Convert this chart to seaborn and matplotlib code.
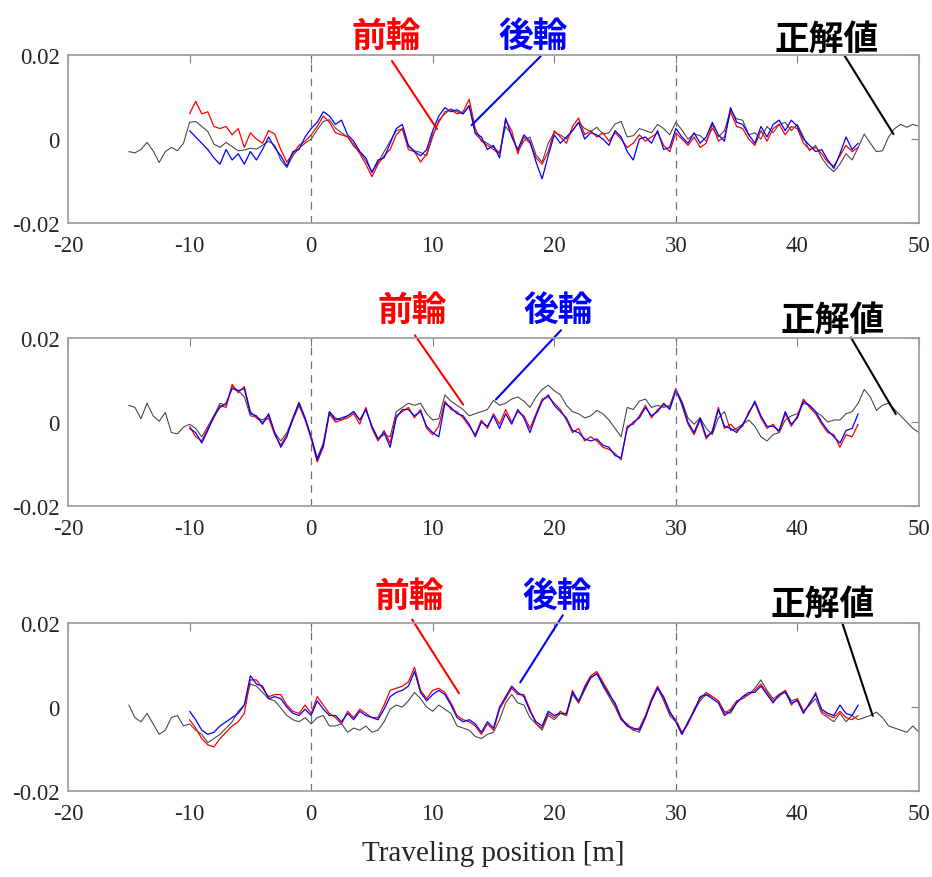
import numpy as np
import matplotlib
matplotlib.use("Agg")
import matplotlib.pyplot as plt
import seaborn as sns

# positions [m]
x_truth = np.arange(-15, 50.01, 0.5)
x_wheel = np.arange(-10, 45.01, 0.5)

# values in units of 1e-3
truth_1 = [
    -3.0, -3.3, -2.5, -0.8, -2.8, -5.6, -3.0, -2.0, -2.8, -1.0,
    4.0, 4.2, 3.0, 1.8, -1.2, -2.0, -0.8, -1.8, -2.8, -2.6,
    -2.2, -2.4, -1.5, -0.5, -1.5, -5.0, -6.8, -4.0, -2.2, -1.0,
    0.0, 2.2, 4.2, 4.6, 2.6, 1.5, 0.5, -1.8, -3.0, -5.2,
    -7.8, -5.6, -3.0, -0.5, 2.0, 2.4, -1.8, -2.8, -3.2, -4.0,
    0.5, 4.5, 6.0, 7.2, 6.5, 6.0, 7.8, 1.2, -0.2, -1.0,
    -2.0, -3.2, 3.0, 1.0, -3.0, -0.5, 0.5, -3.8, -5.5, -1.0,
    1.5, 1.0, 0.0, 2.0, 4.0, 2.5, 1.8, 2.8, 1.2, 1.5,
    3.6, 4.2, 0.5, 0.8, 2.5, 2.0, 1.5, 3.5, 2.5, 1.0,
    4.0, 2.2, 0.0, 1.2, 0.8, -0.5, 2.5, 0.5, 2.0, 7.0,
    4.8, 4.5, 1.0, 1.5, 0.0, 3.0, 1.5, 3.5, 4.0, 2.0,
    3.5, 0.5, -2.8, -1.5, -4.5, -6.5, -7.8, -6.0, -3.5, -5.0,
    -2.0, 1.2, -1.0, -3.0, -2.8, 0.5, 2.5, 3.5, 2.8, 3.5,
    3.0,
]
front_1 = [
    6.0, 9.0, 6.0, 6.5, 3.0, 2.5, 3.0, 1.0, 2.5, -2.0,
    1.5, 0.0, -1.0, 2.0, 1.2, -2.5, -5.5, -3.5, -1.5, -0.5,
    1.0, 3.0, 5.5, 4.0, 1.5, 1.0, 0.5, -1.2, -3.5, -6.0,
    -9.0, -6.0, -4.0, -2.5, 1.0, 2.5, -2.5, -3.0, -5.5, -3.5,
    1.0, 4.0, 6.5, 7.0, 6.0, 6.5, 9.5, 2.5, -0.5, -1.5,
    -2.5, -3.5, 4.5, 2.0, -3.5, 0.5, -1.0, -4.5, -6.0, -3.0,
    2.0, 0.5, -1.0, 3.0, 5.0, 1.0, 2.0, 0.5, 1.5, -0.5,
    1.5, 0.0, -2.0, -1.0, 1.0, -0.5, 0.5, 1.5, -1.5, -3.0,
    1.5, 0.0, -1.5, 0.5, -2.0, -1.0, 3.5, -0.5, 0.5, 6.5,
    3.0, 2.5, 0.0, -1.5, 2.0, -0.5, 2.5, 3.5, 1.0, 3.0,
    2.5, -1.0, -2.5, -2.0, -3.5, -5.5, -6.5, -4.0, -1.5, -3.0,
    -2.0,
]
rear_1 = [
    2.0, 0.5, -1.0, -2.5, -4.5, -6.0, -2.5, -5.0, -3.5, -6.0,
    -3.0, -5.0, -2.5, 0.5, -2.0, -4.0, -6.5, -3.0, -2.5, 0.5,
    2.5, 4.0, 6.5, 5.5, 3.5, 4.5, 1.0, -0.5, -3.0, -4.5,
    -8.0, -5.0, -4.5, -1.0, 2.5, 3.5, -1.5, -3.0, -4.0, -2.5,
    2.0, 5.5, 7.5, 6.5, 7.0, 6.0, 8.0, 1.5, 0.5, -2.5,
    -1.5, -4.5, 5.0, 0.5, -2.5, 1.0, -0.5, -5.5, -9.5, -4.0,
    1.0, -1.0, 0.5, 2.0, 4.0, 0.0, 1.5, 1.0, 0.0, -1.5,
    2.0, 0.5, -3.0, -5.0, 0.0, 0.5, -1.0, 2.0, -2.5, -2.0,
    2.5, 0.5, -1.0, 1.5, -1.0, 0.5, 4.0, 1.0, -0.5, 7.5,
    4.0, 3.5, 1.0, -1.0, 3.0, 0.5, 3.5, 4.5, 2.0, 4.5,
    3.0, 0.0, -1.5, -3.0, -2.5, -5.0, -7.0, -3.5, 0.5, -2.5,
    -1.0,
]

truth_2 = [
    4.0, 3.5, 0.8, 4.5, 1.5, 0.2, 2.3, -2.5, -2.8, -1.2,
    -0.5, -1.5, -3.5, -1.0, 1.5, 4.5, 4.0, 8.5, 7.5, 6.0,
    1.5, 1.2, 0.5, 1.5, -2.5, -4.5, -2.5, 1.0, 4.8, 1.0,
    -3.5, -8.5, -5.0, 2.5, 1.0, 0.5, 1.5, 2.5, 0.5, 3.0,
    -1.0, -4.0, -3.0, -3.5, 2.5, 3.5, 4.5, 4.0, 4.5, 2.0,
    0.5, 0.8, 6.5, 5.0, 4.0, 3.0, 1.5, 2.0, 2.5, 3.0,
    5.2, 4.0, 4.5, 5.5, 6.0, 5.0, 3.5, 6.0, 7.8, 8.8,
    7.5, 6.5, 4.0, 2.5, 2.0, 1.0, 1.5, 2.8, 2.0, 0.5,
    -1.5, -3.5, 3.5, 3.0, 5.0, 5.5, 3.5, 4.0, 3.5, 4.0,
    7.8, 5.0, 1.0, -0.5, 1.0, -1.5, -3.0, 1.0, 2.5, -2.0,
    -1.5, -0.5, 0.5, -1.0, -3.5, -4.5, -3.0, -2.5, 0.5, 1.5,
    2.0, 4.5, 4.0, 2.5, 1.5, 0.0, 0.5, 0.5, 2.0, 2.5,
    4.5, 7.8, 6.0, 2.8, 4.0, 4.5, 3.0, 1.5, 0.0, -1.5,
    -2.5,
]
front_2 = [
    -1.0, -3.5, -4.5, -1.5, 1.0, 4.0, 3.5, 9.0, 7.0, 8.5,
    2.5, 1.0, 0.0, 1.0, -3.0, -5.5, -3.0, 0.5, 4.0, 0.5,
    -4.0, -9.5, -6.0, 2.0, 0.0, 0.5, 1.0, 2.0, -0.5, 3.5,
    -1.5, -4.5, -2.0, -5.0, 1.5, 2.5, 3.5, 1.0, 3.0, -1.5,
    -3.0, -1.0, 5.0, 3.0, 2.5, 1.0, -1.0, -3.0, 0.5, -1.5,
    2.0, -0.5, 3.0, 0.0, 2.5, 1.5, -1.5, 2.0, 5.5, 6.0,
    4.5, 3.0, 0.5, -2.5, -1.5, -4.5, -3.5, -4.5, -6.0, -6.5,
    -7.5, -9.0, -1.0, -0.5, 1.5, 4.0, 1.0, 3.0, 4.0, 3.5,
    8.0, 4.0, -0.5, -3.0, 0.5, -4.0, -2.0, 3.5, -1.5, -0.5,
    -2.0, -1.0, 2.5, 4.5, 1.0, -1.5, -0.5, -2.5, 2.0, -1.0,
    1.5, 5.5, 3.5, 2.0, -0.5, -2.5, -3.0, -6.0, -3.0, -3.5,
    -0.5,
]
rear_2 = [
    -1.5, -2.5, -5.0, -2.0, 1.5, 3.5, 4.5, 8.0, 7.5, 8.0,
    2.0, 1.5, -0.5, 2.0, -2.5, -6.0, -3.5, 1.0, 4.5, 1.0,
    -3.5, -9.0, -5.5, 2.5, 0.5, 1.0, 1.5, 2.5, 0.5, 3.0,
    -1.0, -4.0, -2.5, -6.0, 1.0, 3.0, 3.0, 1.5, 2.5, -1.0,
    -2.5, -3.5, 4.5, 3.5, 2.0, 1.5, -0.5, -3.5, 0.0, -1.0,
    1.5, -1.5, 2.0, -0.5, 3.0, 1.0, -2.5, 1.5, 5.0, 6.5,
    4.0, 2.5, 1.0, -2.0, -2.5, -4.0, -4.5, -4.0, -5.5, -6.0,
    -8.0, -8.5, -1.5, 0.0, 1.0, 3.5, 1.5, 2.5, 4.5, 3.0,
    7.5, 4.5, 0.0, -2.5, 1.0, -3.5, -2.5, 3.0, -1.0, -1.5,
    -2.5, -0.5, 2.0, 5.0, 1.5, -1.0, -1.0, -2.0, 2.5, -0.5,
    1.0, 5.0, 4.0, 2.5, 0.0, -2.0, -3.5, -5.0, -2.0, -1.5,
    2.0,
]

truth_3 = [
    0.5, -2.5, -3.5, -1.5, -4.0, -6.5, -5.5, -2.5, -2.0, -4.5,
    -4.0, -5.5, -6.5, -8.5, -7.5, -6.5, -5.0, -3.5, -1.0, 0.5,
    5.5, 5.0, 3.5, 2.0, 1.5, -0.2, -2.0, -3.0, -3.5, -2.5,
    -4.0, -2.5, -2.0, -4.5, -4.5, -4.0, -6.0, -5.0, -5.5, -4.5,
    -6.0, -5.5, -3.5, -0.5, 0.5, 0.0, 1.5, 3.5, 2.0, 0.0,
    -1.0, 0.5, -0.5, -1.5, -4.5, -5.0, -5.5, -7.0, -7.5, -6.5,
    -6.0, -3.0, 1.0, 3.0, 1.0, 0.5, -2.5, -4.0, -5.5, -2.0,
    -3.0, -1.5, -2.0, 3.0, 1.0, 4.0, 7.0, 8.0, 5.0, 2.5,
    0.0, -3.0, -4.5, -5.5, -6.0, -2.5, 1.5, 4.5, 1.5, -2.0,
    -3.5, -6.5, -4.0, -1.0, 1.5, 3.0, 2.5, 1.5, -1.0, -1.5,
    1.0, 2.5, 3.0, 4.5, 6.5, 4.0, 2.0, 3.0, 4.0, 1.5,
    2.0, -1.0, 0.5, 2.0, -1.5, -2.5, -3.5, -1.5, -3.5, -2.0,
    -3.0, -2.5, -2.0, -1.2, -2.5, -4.5, -5.0, -5.5, -6.0, -4.5,
    -6.0,
]
front_3 = [
    -3.0, -5.0, -7.5, -9.0, -9.5, -7.5, -6.0, -4.5, -3.5, -1.5,
    6.5, 6.5, 4.5, 2.5, 3.0, 3.0, 0.5, -1.0, -1.5, 0.5,
    -1.5, 2.5, 0.5, -1.5, -2.5, -4.0, -1.0, -2.5, -0.5, -1.5,
    -2.5, -2.5, 0.5, 4.0, 4.5, 5.0, 6.0, 9.5, 4.0, 2.0,
    4.0, 4.5, 3.5, 1.0, -2.0, -3.0, -3.5, -4.5, -6.5, -4.0,
    -5.5, -0.5, 2.0, 4.5, 3.0, 3.0, -0.5, -4.0, -5.0, -1.5,
    -2.5, -1.0, -2.0, 4.0, 1.0, 5.0, 7.5, 8.5, 6.0, 3.5,
    0.5, -3.0, -4.0, -5.5, -5.0, -2.0, 2.0, 5.0, 2.0, -1.5,
    -3.0, -6.0, -4.0, -0.5, 2.0, 3.5, 2.5, 1.5, -1.5, -0.5,
    1.5, 2.0, 3.0, 4.0, 5.5, 3.5, 1.5, 2.5, 4.0, 0.5,
    2.0, -1.0, 0.5, 3.5, -1.0, -2.0, -2.5, -1.0, -2.5, -3.0,
    -2.0,
]
rear_3 = [
    -1.0, -3.0, -5.5, -6.5, -6.0, -4.5, -3.5, -2.5, -1.5, 0.5,
    7.5, 5.5, 5.0, 2.0, 2.5, 2.0, 0.0, -1.5, -2.0, -0.5,
    -2.0, 1.5, -0.5, -2.0, -2.0, -3.5, -1.5, -3.0, -1.0, -2.0,
    -2.5, -3.0, -0.5, 2.5, 3.5, 4.0, 5.0, 8.5, 3.5, 1.5,
    3.0, 4.0, 3.0, 0.5, -2.5, -3.5, -3.0, -4.0, -6.0, -3.5,
    -5.0, 0.0, 2.5, 5.0, 3.5, 2.5, -1.0, -3.5, -4.5, -1.0,
    -2.0, -1.5, -1.5, 3.5, 1.5, 4.5, 7.0, 8.0, 5.5, 3.0,
    1.0, -2.5, -4.5, -5.0, -5.5, -2.5, 1.5, 4.5, 2.5, -1.0,
    -3.5, -6.5, -3.5, -1.0, 2.5, 3.0, 2.0, 1.0, -2.0, -1.0,
    1.0, 2.5, 3.5, 3.5, 5.0, 3.0, 1.0, 3.0, 3.5, 1.0,
    1.5, -1.5, 1.0, 3.0, -0.5, -1.5, -2.0, 0.5, -1.5, -2.0,
    0.5,
]

panels = [
    (truth_1, front_1, rear_1),
    (truth_2, front_2, rear_2),
    (truth_3, front_3, rear_3),
]

# label positions (x [m], y) and leader lines (start, end) for each panel
label_pos = [
    {"front": (6.2, 0.0248), "rear": (18.3, 0.0248), "truth": (42.4, 0.0240)},
    {"front": (8.3, 0.0268), "rear": (20.3, 0.0268), "truth": (42.9, 0.0244)},
    {"front": (8.1, 0.0266), "rear": (20.2, 0.0266), "truth": (42.1, 0.0247)},
]
leaders = [
    {"front": ((6.65, 0.0186), (10.35, 0.0024)),
     "rear": ((18.9, 0.0198), (13.2, 0.0033)),
     "truth": ((43.9, 0.0198), (47.9, 0.0012))},
    {"front": ((8.54, 0.0207), (12.5, 0.0042)),
     "rear": ((20.55, 0.0219), (15.2, 0.0054)),
     "truth": ((44.4, 0.0202), (48.1, 0.0019))},
    {"front": ((8.3, 0.0209), (12.16, 0.0033)),
     "rear": ((20.7, 0.0219), (17.2, 0.0059)),
     "truth": ((43.7, 0.0200), (46.2, -0.0021))},
]
labels = {"front": "前輪", "rear": "後輪", "truth": "正解値"}
colors = {"front": "#ff0000", "rear": "#0000ff", "truth": "#000000"}

sns.set_style("white")
plt.rcParams["font.family"] = ["Liberation Serif", "DejaVu Serif"]
plt.rcParams["axes.unicode_minus"] = False

fig = plt.figure(figsize=(9.32, 8.78), dpi=100)
bottoms = [0.745, 0.4226, 0.098]
frame_col = "#a0a0a0"

for i, (truth, front, rear) in enumerate(panels):
    ax = fig.add_axes([0.073, bottoms[i], 0.913, 0.191])
    sns.lineplot(x=x_truth, y=np.array(truth) * 1e-3, ax=ax, color="#404040",
                 linewidth=0.75, estimator=None)
    sns.lineplot(x=x_wheel, y=np.array(front) * 1e-3, ax=ax, color="#ff0000",
                 linewidth=0.9, estimator=None)
    sns.lineplot(x=x_wheel, y=np.array(rear) * 1e-3, ax=ax, color="#0000ff",
                 linewidth=0.9, estimator=None)

    for xv in (0, 30):
        ax.axvline(xv, color="#707070", linestyle=(0, (6, 5)), linewidth=0.9)

    ax.set_xlim(-20, 50)
    ax.set_ylim(-0.02, 0.02)
    ax.set_xticks(range(-20, 51, 10))
    ax.set_xticklabels([str(v) for v in range(-20, 51, 10)])
    ax.set_yticks([-0.02, 0, 0.02])
    ax.set_yticklabels(["-0.02", "0", "0.02"])
    ax.tick_params(direction="in", top=True, right=True, length=6,
                   color="#808080", labelsize=16.5)
    ax.tick_params(axis="x", pad=9)
    ax.tick_params(axis="y", pad=6)
    for sp in ax.spines.values():
        sp.set_color(frame_col)
        sp.set_linewidth(1.3)
    ax.set_xlabel("")
    ax.set_ylabel("")

    for key in ("front", "rear", "truth"):
        (x0, y0), (x1, y1) = leaders[i][key]
        ax.plot([x0, x1], [y0, y1], color=colors[key], linewidth=1.5,
                clip_on=False)
        tx, ty = label_pos[i][key]
        ax.text(tx, ty, labels[key], color=colors[key], fontsize=25,
                fontweight="bold", ha="center", va="center",
                family=["Noto Sans CJK JP", "DejaVu Sans"], clip_on=False)

    if i == 2:
        ax.set_xlabel("Traveling position [m]", fontsize=21, labelpad=11)

fig.savefig("out.png", dpi=100)
